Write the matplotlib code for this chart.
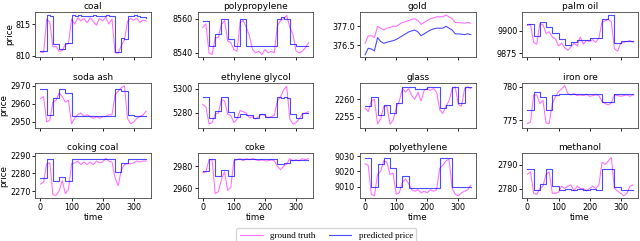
import numpy as np
import matplotlib
matplotlib.use("Agg")
import matplotlib.pyplot as plt

# time index (every 10 steps)
time = list(range(0, 341, 10))

names = ["coal", "polypropylene", "gold", "palm oil",
         "soda ash", "ethylene glycol", "glass", "iron ore",
         "coking coal", "coke", "polyethylene", "methanol"]

coal_truth = [810.6, 810.5, 815.8, 815.3, 811.4, 811.5, 810.7, 810.8, 811.8, 811.9,
              815.8, 815.0, 816.0, 815.5, 815.9, 815.2, 816.0, 815.4, 814.8, 815.9,
              815.5, 816.1, 815.0, 815.8, 810.5, 810.4, 811.6, 812.5, 815.4, 815.9,
              815.6, 815.9, 815.3, 815.6, 815.5]
coal_pred = [810.7, 810.7, 816.5, 816.3, 811.8, 811.8, 811.0, 811.0, 812.0, 812.0,
             816.4, 816.2, 816.4, 816.2, 816.3, 816.2, 816.3, 816.4, 816.2, 816.3,
             816.2, 816.4, 816.2, 816.3, 810.6, 810.6, 812.8, 812.7, 816.3, 816.2,
             816.4, 816.2, 816.1, 816.1, 816.0]

pp_truth = [8555, 8557, 8540, 8539, 8549, 8549, 8557, 8559, 8547, 8546,
            8542, 8541, 8558, 8559, 8555, 8550, 8542, 8540, 8541, 8539,
            8542, 8540, 8541, 8540, 8556, 8559, 8560, 8562, 8555, 8551,
            8541, 8540, 8541, 8543, 8546]
pp_pred = [8559, 8559, 8544, 8544, 8551, 8551, 8560, 8560, 8548, 8548,
           8544, 8544, 8560, 8560, 8544, 8544, 8544, 8544, 8544, 8544,
           8544, 8544, 8544, 8544, 8560, 8561, 8560, 8560, 8545, 8545,
           8544, 8544, 8544, 8544, 8544]

gold_truth = [376.55, 376.75, 376.75, 376.7, 377.0, 376.95, 376.9, 376.95, 376.97, 377.0,
              377.0, 377.05, 377.1, 377.12, 377.15, 377.18, 377.2, 377.15, 377.05, 377.1,
              377.15, 377.2, 377.22, 377.25, 377.25, 377.25, 377.3, 377.25, 377.2, 377.1,
              377.1, 377.09, 377.08, 377.1, 377.08]
gold_pred = [376.25, 376.42, 376.4, 376.35, 376.7, 376.6, 376.55, 376.58, 376.6, 376.62,
             376.65, 376.7, 376.75, 376.8, 376.85, 376.88, 376.9, 376.85, 376.75, 376.8,
             376.85, 376.9, 376.93, 376.95, 376.95, 376.95, 377.0, 376.95, 376.9, 376.8,
             376.8, 376.79, 376.78, 376.8, 376.78]

palm_truth = [9906, 9907, 9887, 9885, 9908, 9907, 9897, 9899, 9893, 9891,
              9883, 9886, 9881, 9878, 9882, 9886, 9883, 9893, 9885, 9889,
              9888, 9890, 9887, 9892, 9910, 9911, 9913, 9910, 9880, 9877,
              9886, 9887, 9888, 9889, 9887]
palm_pred = [9908, 9908, 9894, 9894, 9910, 9910, 9904, 9904, 9898, 9898,
             9891, 9891, 9884, 9884, 9887, 9887, 9890, 9890, 9890, 9890,
             9892, 9892, 9892, 9892, 9913, 9913, 9918, 9918, 9886, 9886,
             9889, 9889, 9889, 9889, 9889]

soda_truth = [2963, 2964, 2950, 2951, 2961, 2962, 2966, 2964, 2961, 2962,
              2949, 2952, 2954, 2955, 2953, 2954, 2953, 2952, 2953, 2952,
              2953, 2953, 2954, 2954, 2965, 2967, 2969, 2970, 2952, 2949,
              2950, 2952, 2953, 2954, 2956]
soda_pred = [2968, 2968, 2954, 2954, 2963, 2963, 2968, 2968, 2966, 2966,
             2953.5, 2953.5, 2953.5, 2953.5, 2953.5, 2953.5, 2953.5, 2953.5, 2953.5, 2953.5,
             2953.5, 2953.5, 2953.5, 2953.5, 2968, 2968, 2967, 2967, 2954, 2954,
             2953.5, 2953.5, 2953.5, 2953.5, 2953.5]

eg_truth = [5287, 5285, 5271, 5272, 5279, 5280, 5291, 5290, 5279, 5278,
            5272, 5275, 5282, 5281, 5280, 5276, 5277, 5275, 5277, 5279,
            5278, 5276, 5277, 5278, 5290, 5293, 5299, 5302, 5275, 5271,
            5272, 5275, 5279, 5280, 5281]
eg_pred = [5293, 5293, 5276, 5276, 5282, 5282, 5293, 5293, 5281, 5281,
           5277, 5277, 5279, 5279, 5278, 5278, 5276, 5276, 5279, 5279,
           5277, 5277, 5277, 5277, 5293, 5292, 5293, 5292, 5279, 5279,
           5276, 5276, 5280, 5280, 5280]

glass_truth = [2257.5, 2256.5, 2259.5, 2260, 2253, 2254.5, 2258, 2258, 2253, 2254,
               2257.5, 2259.5, 2263, 2262, 2263, 2261, 2260, 2262, 2259.5, 2262.5,
               2263, 2262.5, 2263, 2262, 2257, 2256, 2258, 2259.5, 2263, 2263.5,
               2258.5, 2258, 2263, 2263.5, 2263]
glass_pred = [2258, 2258, 2260.5, 2260.5, 2255.5, 2255.5, 2258.5, 2258.5, 2256, 2256,
              2259, 2259, 2263.5, 2263.5, 2263.5, 2263.5, 2263, 2263, 2263, 2263,
              2263.5, 2263.5, 2263.5, 2263.5, 2257.5, 2257.5, 2258.5, 2258.5, 2263.5, 2263.5,
              2259, 2259, 2263.5, 2263.5, 2263.5]

iron_truth = [774.5, 774.7, 778.8, 778.8, 777.5, 778.0, 774.6, 774.5, 777.5, 778.5,
              779.3, 779.7, 780.2, 779.0, 778.8, 779.0, 778.7, 778.8, 778.7, 778.9,
              778.6, 778.7, 778.8, 778.7, 777.8, 777.5, 777.3, 777.6, 778.8, 778.7,
              778.6, 778.7, 778.8, 778.6, 778.8]
iron_pred = [776.5, 776.5, 779.2, 779.2, 778.5, 778.5, 776.5, 776.5, 778.8, 778.8,
             779.0, 779.0, 779.0, 779.0, 779.0, 779.0, 779.0, 779.0, 779.0, 779.0,
             779.0, 779.0, 779.0, 779.0, 777.8, 777.8, 777.8, 777.8, 779.0, 779.0,
             779.0, 779.0, 779.0, 779.0, 779.0]

coking_truth = [2274, 2275, 2285.5, 2286, 2268, 2267.5, 2270, 2276, 2268.5, 2271,
                2285.5, 2286, 2287, 2285, 2286.5, 2285, 2286.5, 2285, 2287, 2286,
                2286.5, 2288.5, 2287, 2286.5, 2277.5, 2273, 2282, 2285, 2285.5, 2285.5,
                2286, 2287, 2286.5, 2287, 2287]
coking_pred = [2277.5, 2277.5, 2288, 2288, 2275.5, 2275.5, 2278, 2278, 2275.5, 2275.5,
               2288, 2288, 2288, 2288, 2288, 2288, 2288, 2288, 2288, 2288,
               2288, 2288, 2288, 2288, 2281, 2281, 2286, 2286, 2288, 2288,
               2288, 2288, 2288, 2288, 2288]

coke_truth = [2974, 2975, 2986, 2986, 2955, 2957, 2968, 2975, 2958, 2961,
              2985, 2986, 2987, 2985, 2987, 2986, 2987, 2986, 2985, 2986,
              2985, 2985, 2986, 2985, 2980, 2977, 2980, 2982, 2987, 2985,
              2986, 2985, 2987, 2986, 2987]
coke_pred = [2976, 2976, 2987, 2987, 2971, 2971, 2977, 2977, 2971.5, 2971.5,
             2986.5, 2986.5, 2986.5, 2986.5, 2986.5, 2986.5, 2986.5, 2986.5, 2986.5, 2986.5,
             2986.5, 2986.5, 2986.5, 2986.5, 2982, 2982, 2983, 2983, 2986, 2986,
             2986, 2986, 2986, 2986, 2986]

pe_truth = [9025, 9024, 9005, 9004, 9018, 9020, 9027, 9026, 9018, 9019,
            9005, 9006, 9013, 9015, 9012, 9008, 9007, 9008, 9006, 9007,
            9006, 9008, 9007, 9008, 9022, 9024, 9027, 9028, 9009, 9005,
            9004, 9006, 9007, 9008, 9011]
pe_pred = [9029, 9029, 9009.5, 9009.5, 9025, 9025, 9029, 9029, 9022, 9022,
           9010, 9010, 9017, 9017, 9009, 9009, 9009, 9009, 9009, 9009,
           9009, 9009, 9009, 9009, 9029, 9029, 9029, 9029, 9010, 9010,
           9010, 9010, 9010, 9010, 9010]

meth_truth = [2786, 2787, 2778, 2777.5, 2780, 2781, 2786, 2787, 2778, 2778,
              2778.5, 2781, 2780, 2781, 2781.5, 2779, 2781, 2780, 2780, 2779,
              2780, 2781, 2780, 2781.5, 2791, 2790, 2791.5, 2793, 2780, 2779,
              2778, 2777, 2778, 2781, 2781.5]
meth_pred = [2788, 2788, 2779.5, 2779.5, 2782, 2782, 2788, 2788, 2781, 2781,
             2779.5, 2779.5, 2780, 2780, 2779.5, 2779.5, 2780, 2780, 2779.5, 2779.5,
             2780, 2780, 2779.5, 2779.5, 2788, 2788, 2788, 2788, 2780.5, 2780.5,
             2779.5, 2779.5, 2779.5, 2779.5, 2779.5]

truths = [coal_truth, pp_truth, gold_truth, palm_truth,
          soda_truth, eg_truth, glass_truth, iron_truth,
          coking_truth, coke_truth, pe_truth, meth_truth]
preds = [coal_pred, pp_pred, gold_pred, palm_pred,
         soda_pred, eg_pred, glass_pred, iron_pred,
         coking_pred, coke_pred, pe_pred, meth_pred]

yticks = [[810, 815], [8540, 8560], [376.5, 377.0], [9875, 9900],
          [2950, 2960, 2970], [5280, 5300], [2255, 2260], [775, 780],
          [2270, 2280, 2290], [2960, 2980], [9010, 9020, 9030], [2780, 2790]]
ylims = [(809.8, 816.9), (8537.6, 8564), (376.19, 377.375), (9870.6, 9921),
         (2946.9, 2971.8), (5268, 5305), (2252, 2264.7), (773.9, 780.65),
         (2266, 2291.5), (2951, 2992), (9002.5, 9032), (2776, 2794.8)]
xticks = [0, 100, 200, 300]

fig, axes = plt.subplots(3, 4, figsize=(6.4, 2.41), dpi=100)
fig.subplots_adjust(left=0.055, right=0.997, top=0.950, bottom=0.178,
                    wspace=0.40, hspace=0.57)

for i, ax in enumerate(axes.flat):
    r, c = divmod(i, 4)
    lt, = ax.plot(time, truths[i], color="#ff00ff", alpha=0.55, lw=0.8)
    ds = "default" if names[i] == "gold" else "steps-post"
    lp, = ax.plot(time, preds[i], color="#0000ff", alpha=0.7, lw=0.8, drawstyle=ds)
    ax.set_title(names[i], fontsize=6.5, pad=2)
    ax.set_xlim(-17, 356)
    ax.set_ylim(*ylims[i])
    ax.set_xticks(xticks)
    ax.set_yticks(yticks[i])
    if names[i] == "gold":
        ax.set_yticklabels([f"{v:.1f}" for v in yticks[i]])
    ax.tick_params(labelsize=5.8, length=2, width=0.6, pad=1.5)
    for s in ax.spines.values():
        s.set_linewidth(0.6)
        s.set_color("#444444")
    if r < 2:
        ax.set_xticklabels([])
    else:
        ax.set_xlabel("time", fontsize=6.3, labelpad=1)
    if c == 0:
        ax.set_ylabel("price", fontsize=6.3, labelpad=1)

fig.legend([lt, lp], ["ground truth", "predicted price"], loc="upper center",
           bbox_to_anchor=(0.51, 0.072), ncol=2, frameon=True,
           prop={"family": "Liberation Serif", "size": 6.5},
           handlelength=2.5, columnspacing=1.5, borderpad=0.4, fancybox=True)

fig.savefig("out.png", dpi=100)
